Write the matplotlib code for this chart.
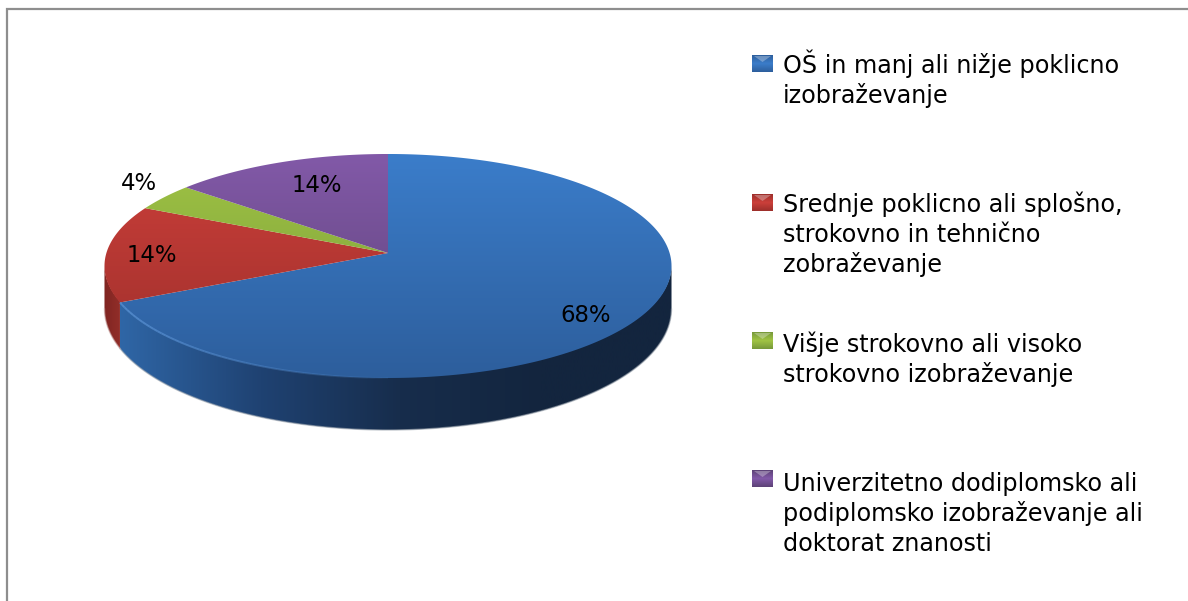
import numpy as np
import matplotlib
matplotlib.use('Agg')
from matplotlib import pyplot as plt
from matplotlib.colors import LinearSegmentedColormap
from matplotlib.patches import Polygon

# data
categories = [
    'OŠ in manj ali nižje poklicno\nizobraževanje',
    'Srednje poklicno ali splošno,\nstrokovno in tehnično\nzobraževanje',
    'Višje strokovno ali visoko\nstrokovno izobraževanje',
    'Univerzitetno dodiplomsko ali\npodiplomsko izobraževanje ali\ndoktorat znanosti',
]
shares = [68, 14, 4, 14]

# colours: top of the face, bottom of the face, then the side wall
face_light = ['#3b7dca', '#cc3f3a', '#a0c444', '#8259a8']
face_dark = ['#2d5e9c', '#9c2f2b', '#76983a', '#5c4276']
side_left = ['#2f66a6', '#96302b', '#76983a', '#5c4276']
side_right = ['#13253e', '#7c2320', '#76983a', '#5c4276']

# label and legend placement, in pixels
label_xy = [(586, 315), (152, 256), (139, 183), (317, 186)]
marker_y = [55, 194, 332, 470]
text_base = [73, 212, 352, 491]

# pie geometry, in pixels
cx, cy = 388.0, 253.0
rx, ry = 281.6, 110.5
persp = 0.116

fig = plt.figure(figsize=(11.88, 6.01), dpi=100, facecolor='white')
ax = fig.add_axes([0, 0, 1, 1])


def project(u, v):
    w = 1 + persp * v
    return cx + rx * u / w, cy - ry * v / w


def gradient(patch, colors, extent, horizontal=False, zorder=2):
    cmap = LinearSegmentedColormap.from_list('g', colors)
    ramp = np.linspace(0, 1, 256)
    ramp = ramp.reshape(1, -1) if horizontal else ramp.reshape(-1, 1)
    ax.add_patch(patch)
    img = ax.imshow(ramp, cmap=cmap, extent=extent, aspect='auto',
                    origin='upper', zorder=zorder, interpolation='bilinear')
    img.set_clip_path(patch)


wedges, _ = ax.pie(shares, startangle=90, counterclock=False)
for w in wedges:
    w.set_visible(False)

# side wall first
for i, w in enumerate(wedges):
    t = np.deg2rad(np.linspace(w.theta1, w.theta2, 400))
    u, v = np.cos(t), np.sin(t)
    keep = v <= -persp
    if keep.sum() < 2:
        continue
    x, y = project(u[keep], v[keep])
    depth = 41.5 - 10.5 * v[keep]
    pts = np.r_[np.c_[x, y - 1], np.c_[x, y + depth][::-1]]
    patch = Polygon(pts, closed=True, fc='none', ec='none')
    if i == 0:
        gradient(patch, [side_left[0], '#1f4272', '#172d4c', side_right[0], side_right[0]],
                 (120, 680, 601, 0), horizontal=True, zorder=2)
    else:
        gradient(patch, [side_right[i], side_left[i]], (100, 125, 601, 0),
                 horizontal=True, zorder=1)
    # soft outer edge, hides the stepped clip
    ax.plot(x, y + depth, color='#9aa3ad' if i == 0 else '#c9a5a3', lw=1.0, alpha=0.6, zorder=2.5)

# top faces
for i, w in enumerate(wedges):
    t = np.deg2rad(np.linspace(w.theta1, w.theta2, 400))
    x, y = project(np.cos(t), np.sin(t))
    pts = np.r_[[[cx, cy]], np.c_[x, y]]
    patch = Polygon(pts, closed=True, fc='none', ec='none')
    gradient(patch, [face_light[i], face_dark[i]], (100, 680, 378, 154), zorder=3)

# thin highlight on the front rim of the blue slice
t = np.deg2rad(np.linspace(wedges[0].theta1, -90, 200))
t = t[np.sin(t) < -0.2]
x, y = project(np.cos(t), np.sin(t))
for k in range(0, len(x) - 1, 4):
    a = 0.75 * (1 - abs(x[k] - 125) / 290)
    if a > 0:
        ax.plot(x[k:k + 5], y[k:k + 5], color='#5a92d4', lw=1.4, alpha=a, zorder=4,
                solid_capstyle='butt')

ax.set_xlim(0, 1188)
ax.set_ylim(601, 0)
ax.set_aspect('auto')
ax.axis('off')

# slice labels
for (lx, ly), s in zip(label_xy, shares):
    ax.text(lx, ly, f'{s}%', fontsize=16.4, family='DejaVu Sans', color='black',
            ha='center', va='center', zorder=6)

# legend
for i, label in enumerate(categories):
    my = marker_y[i]
    patch = Polygon([(752, my), (773, my), (773, my + 17), (752, my + 17)], closed=True,
                    fc='none', ec='none')
    gradient(patch, [face_dark[i], face_light[i], face_dark[i]], (752, 773, my + 17, my), zorder=5)
    ax.add_patch(Polygon([(754, my + 1), (771, my + 1), (762.5, my + 7)], closed=True,
                         fc='white', ec='none', alpha=0.3, zorder=6))
    for j, line in enumerate(label.split('\n')):
        ax.text(783, text_base[i] + 30 * j, line, fontsize=17.2, family='DejaVu Sans',
                color='black', ha='left', va='baseline', zorder=6)

# frame, only top and left are visible
ax.plot([7, 7, 1188], [601, 9, 9], color='#8e8e8e', lw=1.6, solid_joinstyle='miter', zorder=7)
ax.set_xlim(0, 1188)
ax.set_ylim(601, 0)

fig.savefig('out.png', dpi=100, facecolor='white')
